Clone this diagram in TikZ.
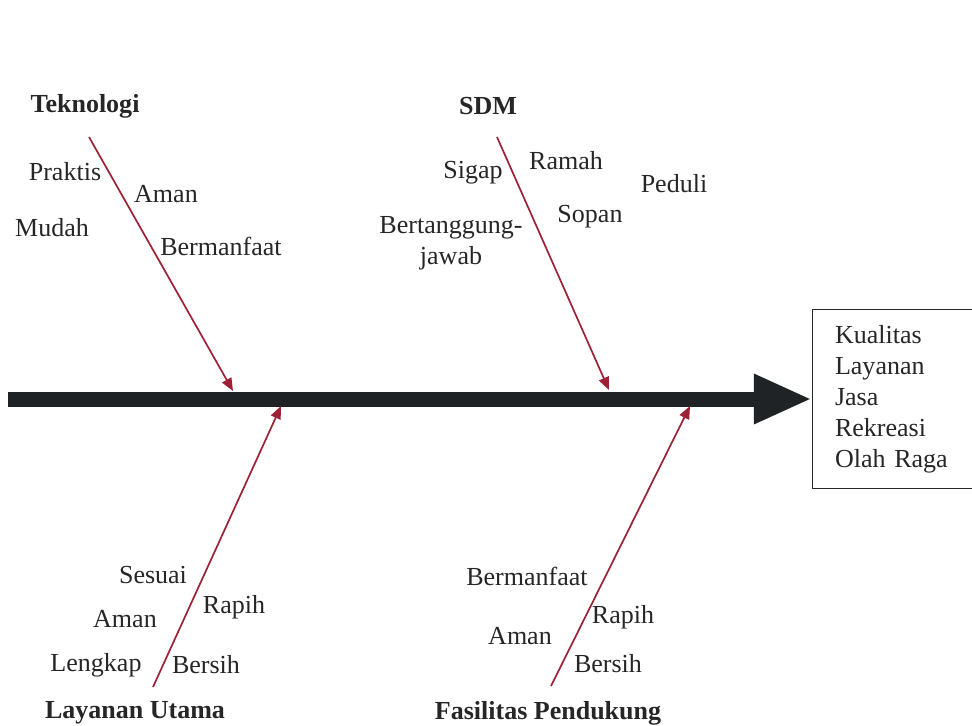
\documentclass[tikz,border=0pt]{standalone}
\usepackage{fontspec}
\setmainfont{Liberation Serif}
\usetikzlibrary{arrows.meta}

\definecolor{boneRed}{RGB}{158,32,52}
\definecolor{spineGray}{RGB}{32,35,38}

\begin{document}
\begin{tikzpicture}[x=0.025cm,y=-0.025cm,
	every node/.style={font=\fontsize{18.5}{22}\selectfont,inner sep=0pt,text=black!85},
	head/.style={font=\fontsize{18.5}{22}\selectfont\bfseries},
	bone/.style={boneRed,line width=1.2pt,-{Triangle[length=0.32cm,width=0.26cm]}},
	spine/.style={spineGray,line width=0.375cm,-{Triangle[length=1.45cm,width=1.15cm]}},
	effect/.style={draw=black!85,line width=0.9pt,anchor=west,align=left,text width=3.3cm,inner xsep=0.56cm,minimum height=4.48cm}]
	\useasboundingbox (0,0) rectangle (972,725);

	\newcommand\drawLabel[4]{\node (#4) at (#1,#2) {#3};}
	\newcommand\drawHead[4]{\node[head] (#4) at (#1,#2) {#3};}

	% effect box and main spine
	\node[effect] (effect) at (812,399) {Kualitas\\Layanan\\Jasa\\Rekreasi\\Olah Raga};
	\coordinate (spineTail) at (8,399);
	\draw[spine] (spineTail) -- (effect.west);

	% upper bones
	\drawHead{85}{106}{Teknologi}{teknologi}
	\drawLabel{65}{172}{Praktis}{praktis}
	\drawLabel{166}{194}{Aman}{tekAman}
	\drawLabel{52}{228}{Mudah}{mudah}
	\drawLabel{221}{246}{Bermanfaat}{tekManfaat}
	\coordinate (tekTail) at (89,137);
	\coordinate (tekHit) at (233,391);
	\draw[bone] (tekTail) -- (tekHit);

	\drawHead{488}{106}{SDM}{sdm}
	\drawLabel{473}{173}{Sigap}{sigap}
	\drawLabel{566}{161}{Ramah}{ramah}
	\drawLabel{674}{184}{Peduli}{peduli}
	\drawLabel{590}{217}{Sopan}{sopan}
	\node[align=center] (tanggung) at (451,243) {Bertanggung-\\jawab};
	\coordinate (sdmTail) at (497,137);
	\coordinate (sdmHit) at (609,390);
	\draw[bone] (sdmTail) -- (sdmHit);

	% lower bones
	\drawHead{135}{713}{Layanan Utama}{layanan}
	\drawLabel{153}{575}{Sesuai}{sesuai}
	\drawLabel{234}{607}{Rapih}{layRapih}
	\drawLabel{125}{619}{Aman}{layAman}
	\drawLabel{96}{665}{Lengkap}{lengkap}
	\drawLabel{206}{665}{Bersih}{layBersih}
	\coordinate (layTail) at (153,687);
	\coordinate (layHit) at (281,406);
	\draw[bone] (layTail) -- (layHit);

	\drawHead{548}{713}{Fasilitas Pendukung}{fasilitas}
	\drawLabel{527}{576}{Bermanfaat}{fasManfaat}
	\drawLabel{623}{617}{Rapih}{fasRapih}
	\drawLabel{520}{636}{Aman}{fasAman}
	\drawLabel{608}{664}{Bersih}{fasBersih}
	\coordinate (fasTail) at (551,686);
	\coordinate (fasHit) at (690,406);
	\draw[bone] (fasTail) -- (fasHit);
\end{tikzpicture}
\end{document}
